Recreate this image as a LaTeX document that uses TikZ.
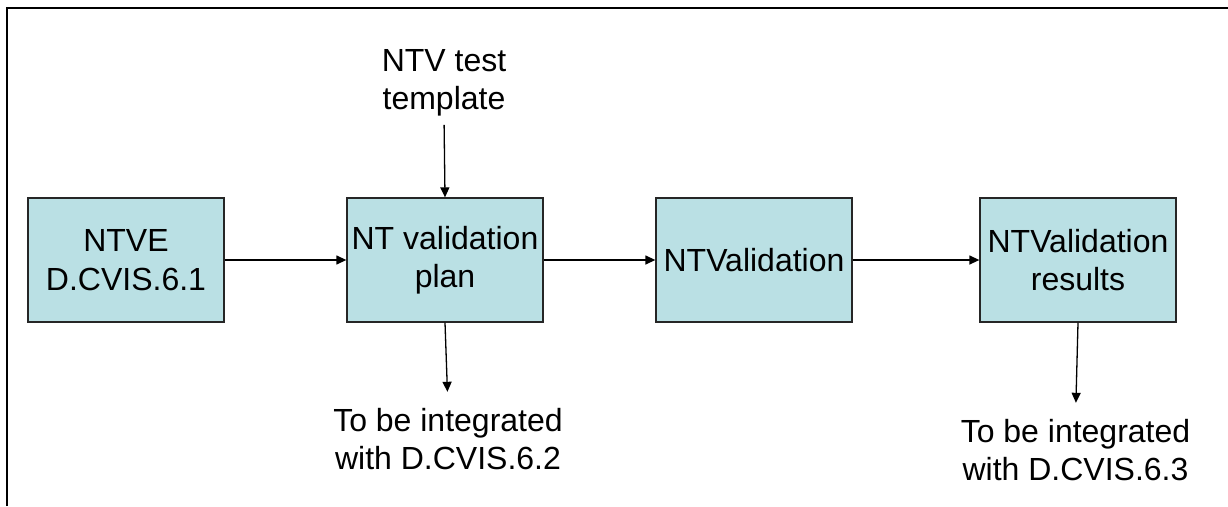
\documentclass[tikz,border=0pt]{standalone}
\usepackage{fontspec}
\setmainfont{Liberation Sans}
\usetikzlibrary{arrows.meta}
\definecolor{boxfill}{RGB}{186,224,228}
\begin{document}
\begin{tikzpicture}[x=1pt,y=-1pt,
every node/.style = {font=\fontsize{32}{38.5}\selectfont, align=center},
block/.style = {draw={black!85}, line width=1.3pt, fill=boxfill,
  minimum width=196pt, minimum height=124pt, inner sep=0pt},
note/.style = {inner sep=0pt},
flow/.style = {line width=1.3pt, -{Triangle[length=10pt,width=9pt]}}
]
\useasboundingbox (0,0) rectangle (1228,506);
\draw[line width=2pt] (7,506) -- (7,7.5) -- (1228,7.5);
\node[block] (ntve) at (126,260) {NTVE\\D.CVIS.6.1};
\node[block] (plan) at (445,260) {NT validation\\plan};
\node[block] (valid) at (754,260) {NTValidation};
\node[block] (result) at (1078,260) {NTValidation\\results};
\node[note] (tmpl) at (444,83) {NTV test\\template};
\node[note] (integA) at (448,439) {To be integrated\\with D.CVIS.6.2};
\node[note] (integB) at (1075.5,450) {To be integrated\\with D.CVIS.6.3};
\draw[flow] (ntve) -- (plan);
\draw[flow] (plan) -- (valid);
\draw[flow] (valid) -- (result);
\draw[flow, shorten <=8pt] (tmpl.south) -- (plan.north);
\draw[flow, shorten >=16pt] (plan.south) -- (integA.north);
\draw[flow, shorten >=16pt] (result.south) -- (integB.north);
\end{tikzpicture}
\end{document}
